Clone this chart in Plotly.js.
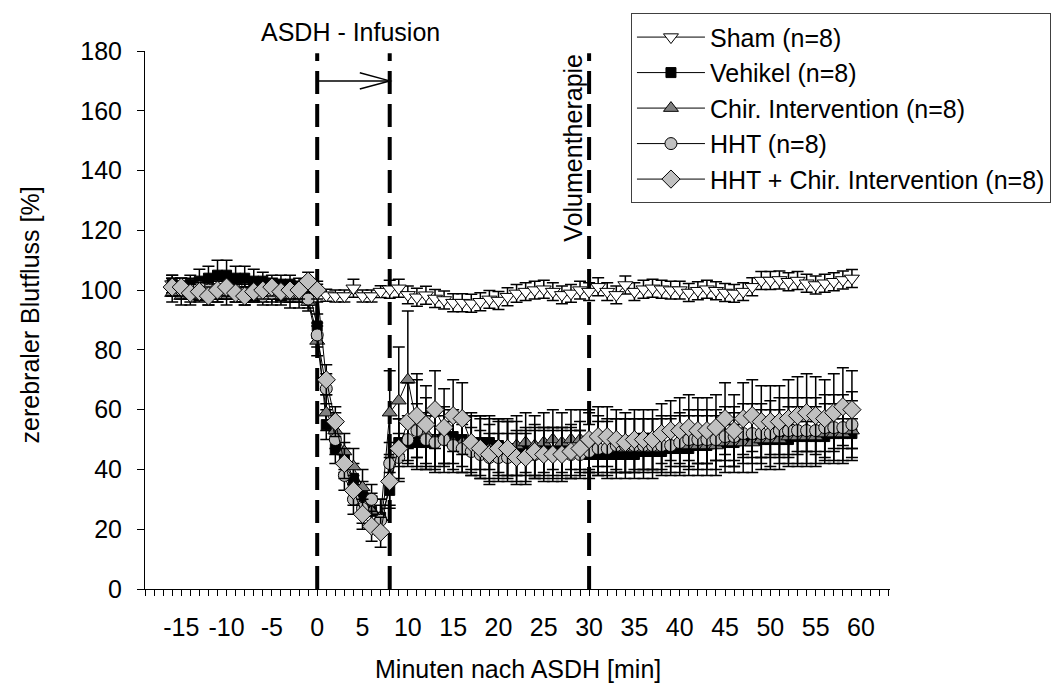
<!DOCTYPE html>
<html>
<head>
<meta charset="utf-8">
<script src="https://cdn.plot.ly/plotly-3.0.1.min.js"></script>
<style>html,body{margin:0;padding:0;background:#fff;}#chart{width:1063px;height:684px;}</style>
</head>
<body>
<div id="chart"></div>
<script>
const minutes = [-16,-15,-14,-13,-12,-11,-10,-9,-8,-7,-6,-5,-4,-3,-2,-1,
  0,1,2,3,4,5,6,7,8,9,10,11,12,13,14,15,16,17,18,19,20,21,22,23,24,25,26,27,28,29,
  30,31,32,33,34,35,36,37,38,39,40,41,42,43,44,45,46,47,48,49,50,51,52,53,54,55,56,57,58,59];

const seriesNames = ["Sham (n=8)", "Vehikel (n=8)", "Chir. Intervention (n=8)", "HHT (n=8)", "HHT + Chir. Intervention (n=8)"];

const sham = [102,101,101,100,101,100,100,101,100,100,100,100,99,99,99,98,
  99,98.3,98,98,100.6,98,98,99.5,100.3,100.6,98.4,97.6,98.3,97.2,96.7,95.8,95.8,95.6,96.1,96.9,
  96.5,97.8,98.9,99.5,100,100.3,99.5,98.4,98.9,100,99.5,101.1,99.5,98.4,101.7,99.5,100.3,100.6,100.3,100,
  100,99.2,99.8,100.3,99.8,99.2,98.9,99.5,101.1,103.2,103.2,103.4,102.8,103.2,102.3,101.7,102.3,102.8,103.4,103.9];
const shamErr = [3,3,3,3,3,3,3,3,3,3,3,3,3,3,3,3,
  3,2,2,2,3,2,2,2,3,3,3,3,3,3,3,3,3,3,3,3,3,3,3,3,3,3,3,3,3,3,
  3,3,3,3,3,3,3,3,3,3,3,3,3,3,3,3,3,3,3,3,3,3,3,3,3,3,3,3,3,3];

const vehikel = [102,101,102,103,104,105,105,104,104,103,103,102,102,102,101,101,
  88,55,47,44,37,31,26,24,33,49,49,49,49,50,51,51,50,49,49,49,48,47,47,46,46,46,46,46,46,46,
  45,45,45,45,45,45,46,46,46,47,47,47,48,48,49,49,49,50,50,50,50,50,50,51,51,51,51,52,52,52];
const vehikelErr = [3,3,3,4,4,5,5,4,4,4,3,3,3,3,3,3,
  4,5,5,5,5,5,5,6,6,8,8,8,9,9,9,9,9,9,9,9,9,9,9,8,8,8,8,8,8,7,
  6,6,6,6,6,6,6,6,6,6,6,6,6,6,6,6,6,6,6,6,5,5,5,5,5,5,5,5,5,5];

const chir = [99,98,98,99,98,99,98,99,98,99,99,98,98,97,97,96,
  83,59,53,46,41,34,26,24,59,63,70,55,52,50,50,49,49,48,48,47,47,47,48,49,48,49,50,49,50,50,
  49,48,47,47,47,47,47,47,48,48,48,48,48,48,48,49,49,49,49,50,50,50,51,51,51,51,52,52,52,53];
const chirErr = [3,3,3,3,3,3,3,3,3,3,3,3,3,3,3,3,
  5,6,6,6,6,6,6,6,14,18,23,15,12,11,11,10,10,10,10,10,10,10,10,10,10,10,10,10,10,10,
  10,10,10,10,10,10,10,10,10,10,10,10,10,10,10,10,10,10,10,10,10,10,10,10,10,10,10,10,10,10];

const hht = [101,100,100,101,100,99,100,100,99,99,98,99,100,99,99,97,
  85,67,50,38,30,27,30,23,42,44,50,53,50,49,50,48,47,46,45,44,44,44,44,44,45,45,45,45,45,45,
  46,47,47,48,48,48,48,48,48,48,49,50,50,50,50,51,51,52,52,52,52,53,53,53,53,53,54,54,54,55];
const hhtErr = [3,3,3,3,3,3,3,3,3,3,3,3,3,3,3,3,
  4,5,5,5,5,5,5,5,7,8,8,9,9,9,8,8,8,8,8,8,8,8,8,8,8,8,8,8,8,8,
  9,9,9,9,9,9,9,9,9,9,10,10,10,10,10,10,10,10,10,10,11,11,11,11,11,11,11,11,11,11];

const hhtChir = [101,101,99,99.5,98,100,101,99,98,99.5,100,101,99.5,100,100,103,
  100,70,56,42,33,25,21,19,36,47,56,58,55,60,54,58,57,49,47,45,47,47,44,44,46,45,45,45,46,47,
  50,51,51,50,49,50,50,50,52,53,53,54,53,53,54,57,53,57,58,56,56,56,57,58,59,58,57,59,61,60];
const hhtChirErr = [3,3,3,3,3,3,3,3,3,3,3,3,3,3,3,3,
  3,5,5,5,5,5,5,5,8,10,13,14,13,13,13,12,12,10,10,10,9,9,9,9,9,9,9,9,9,9,
  10,10,10,10,10,10,10,10,10,10,11,11,11,11,11,12,12,12,12,12,12,12,13,13,13,13,13,13,13,13];

const markerEvents = [0, 8, 30];
const xTickVals = [-15,-10,-5,0,5,10,15,20,25,30,35,40,45,50,55,60];
const xTickText = ["-15","-10","-5","0","5","10","15","20","25","30","35","40","45","50","55","60"];

const FONT = "Liberation Sans, Arial, sans-serif";
const FS = 25;

function mk(name, y, err, symbol, size, fill) {
  return {
    type: "scatter", mode: "lines+markers", name: name, x: minutes, y: y,
    legendgroup: name,
    line: {color: "#000", width: 1},
    marker: {symbol: symbol, size: size, color: fill, line: {color: "#000", width: 1}},
    error_y: {type: "data", array: err, visible: true, color: "#000", thickness: 1.5, width: 6}
  };
}

const traces = [
  mk(seriesNames[0], sham, shamErr, "triangle-down", 13, "#ffffff"),
  mk(seriesNames[1], vehikel, vehikelErr, "square", 10, "#000000"),
  mk(seriesNames[2], chir, chirErr, "triangle-up", 13, "#808080"),
  mk(seriesNames[3], hht, hhtErr, "circle", 12, "#c0c0c0"),
  mk(seriesNames[4], hhtChir, hhtChirErr, "diamond", 14, "#c0c0c0")
];

const shapes = markerEvents.map(v => ({
  type: "line", xref: "x", yref: "paper", x0: v, x1: v, y0: 0, y1: 0.996,
  line: {color: "#000", width: 4, dash: "23px,10px"}, layer: "below"
}));
shapes.push({type: "line", xref: "x", yref: "y", x0: 0, x1: 8, y0: 170, y1: 170, line: {color: "#000", width: 1.5}});
shapes.push({type: "path", xref: "x", yref: "y", path: "M 4.7,172.7 L 8,170 L 4.7,167.3", line: {color: "#000", width: 1.5}});

const layout = {
  width: 1063, height: 684,
  margin: {l: 145, r: 173, t: 51, b: 95, pad: 0},
  paper_bgcolor: "#fff", plot_bgcolor: "#fff",
  font: {family: FONT, size: FS, color: "#000"},
  showlegend: true,
  legend: {
    x: 0.6523, y: 1.07, xanchor: "left", yanchor: "top",
    bgcolor: "#fff", bordercolor: "#404040", borderwidth: 1,
    font: {family: FONT, size: FS, color: "#000"},
    itemwidth: 68, tracegroupgap: 0
  },
  xaxis: {
    range: [-19, 63.2], tickvals: xTickVals, ticktext: xTickText, ticks: "outside", ticklen: 6, tickcolor: "#000", tickwidth: 1,
    showline: true, linecolor: "#000", linewidth: 1, showgrid: false, zeroline: false,
    minor: {dtick: 1, tick0: 0, ticks: "outside", ticklen: 6, tickcolor: "#000", tickwidth: 1, showgrid: false},
    ticklabelstandoff: 10,
    tickfont: {family: FONT, size: FS, color: "#000"}
  },
  yaxis: {
    range: [0, 180], dtick: 20, tick0: 0, ticks: "outside", ticklen: 7, tickcolor: "#000", tickwidth: 1,
    showline: true, linecolor: "#000", linewidth: 1, showgrid: false, zeroline: false,
    ticklabelstandoff: 10,
    tickfont: {family: FONT, size: FS, color: "#000"}
  },
  shapes: shapes,
  annotations: [
    {text: "Minuten nach ASDH [min]", xref: "paper", yref: "paper", x: 0.5, y: -0.149, xanchor: "center", yanchor: "middle", showarrow: false, font: {family: FONT, size: FS}},
    {text: "zerebraler Blutfluss [%]", xref: "paper", yref: "paper", x: -0.154, y: 0.509, xanchor: "center", yanchor: "middle", textangle: -90, showarrow: false, font: {family: FONT, size: FS}},
    {text: "ASDH - Infusion", xref: "x", yref: "paper", x: 3.7, y: 1.035, xanchor: "center", yanchor: "middle", showarrow: false, font: {family: FONT, size: FS}},
    {text: "Volumentherapie", xref: "x", yref: "paper", x: 28.2, y: 0.82, xanchor: "center", yanchor: "middle", textangle: -90, showarrow: false, font: {family: FONT, size: FS}}
  ]
};

Plotly.newPlot("chart", traces, layout, {displayModeBar: false, staticPlot: true});
</script>
</body>
</html>
